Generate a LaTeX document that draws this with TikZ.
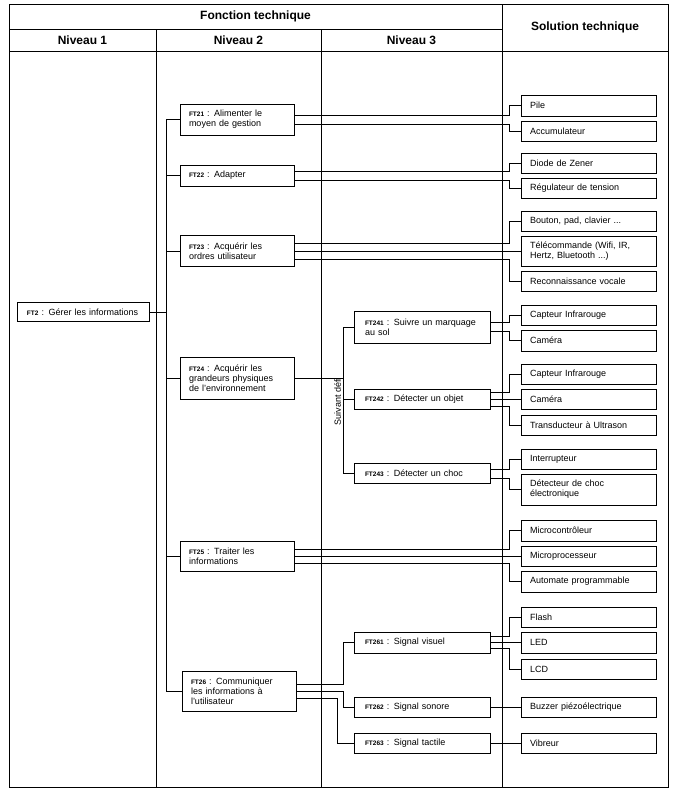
\documentclass[tikz,border=0pt]{standalone}
\usepackage{fontspec}
\setmainfont{Liberation Sans}

\tikzset{
  link/.style={line width=0.8pt},
  ftbox/.style={draw, line width=0.8pt, align=left, inner xsep=9pt, inner ysep=0pt,
    font=\fontsize{9}{10}\selectfont},
  lvltwo/.style={ftbox, text width=96pt},
  lvlthree/.style={ftbox, text width=114pt, inner xsep=11pt},
  solbox/.style={ftbox, text width=117pt},
  head/.style={font=\bfseries\fontsize{12}{14}\selectfont},
}
\newcommand{\ftref}[1]{{\bfseries\fontsize{6.5}{7}\selectfont #1}}

\begin{document}
\begin{tikzpicture}[x=1pt, y=-1pt]
    \useasboundingbox (0,0) rectangle (677,795);
    % Table frame
    \draw[link] (9,4) rectangle (668,787);
    \draw[link] (9,29) -- (502,29);
    \draw[link] (9,51) -- (668,51);
    \draw[link] (156,29) -- (156,787);
    \draw[link] (321,29) -- (321,787);
    \draw[link] (502,4) -- (502,787);
    % Headers
    \node[head] (fonction) at (255.5,16.5) {Fonction technique};
    \node[head] (solution) at (585,27.5) {Solution technique};
    \node[head] (niv1) at (82.5,40.5) {Niveau 1};
    \node[head] (niv2) at (238.5,40.5) {Niveau 2};
    \node[head] (niv3) at (411.5,40.5) {Niveau 3};
    % Bus lines
    \coordinate (busT) at (166,0);
    \coordinate (busD) at (343,0);
    \coordinate (busDb) at (337,0);
    \coordinate (busS) at (509,0);
    % Niveau 1
    \node[ftbox, text width=112pt, inner xsep=10pt, minimum height=19pt] (ft2) at (83,312)
        {\ftref{FT2} : Gérer les informations};
    % Niveau 2
    \node[lvltwo, minimum height=31pt] (ft21) at (237,119.5) {\ftref{FT21} : Alimenter le\\moyen de gestion};
    \node[lvltwo, minimum height=21pt] (ft22) at (237,175.5) {\ftref{FT22} : Adapter};
    \node[lvltwo, minimum height=31pt] (ft23) at (237,251) {\ftref{FT23} : Acquérir les\\ordres utilisateur};
    \node[lvltwo, minimum height=42pt] (ft24) at (237,378) {\ftref{FT24} : Acquérir les\\grandeurs physiques\\de l'environnement};
    \node[lvltwo, minimum height=30pt] (ft25) at (237,556) {\ftref{FT25} : Traiter les\\informations};
    \node[lvltwo, minimum height=40pt] (ft26) at (239,691) {\ftref{FT26} : Communiquer\\les informations à\\l'utilisateur};
    % Niveau 3
    \node[lvlthree, minimum height=32pt] (ft241) at (422,327) {\ftref{FT241} : Suivre un marquage\\au sol};
    \node[lvlthree, minimum height=20pt] (ft242) at (422,399.5) {\ftref{FT242} : Détecter un objet};
    \node[lvlthree, minimum height=20pt] (ft243) at (422,473.5) {\ftref{FT243} : Détecter un choc};
    \node[lvlthree, minimum height=21pt] (ft261) at (422,642.5) {\ftref{FT261} : Signal visuel};
    \node[lvlthree, minimum height=20pt] (ft262) at (422,707) {\ftref{FT262} : Signal sonore};
    \node[lvlthree, minimum height=20pt] (ft263) at (422,743) {\ftref{FT263} : Signal tactile};
    \node[rotate=90, font=\fontsize{9}{10}\selectfont] (defi) at (337.5,401.5) {Suivant défi};
    % Solutions techniques
    \node[solbox, minimum height=21pt] (pile) at (588.5,105.5) {Pile};
    \node[solbox, minimum height=20pt] (accu) at (588.5,131) {Accumulateur};
    \node[solbox, minimum height=20pt] (zener) at (588.5,163) {Diode de Zener};
    \node[solbox, minimum height=20pt] (regul) at (588.5,188) {Régulateur de tension};
    \node[solbox, minimum height=20pt] (bouton) at (588.5,221) {Bouton, pad, clavier ...};
    \node[solbox, minimum height=30pt] (telecom) at (588.5,251) {Télécommande (Wifi, IR,\\Hertz, Bluetooth ...)};
    \node[solbox, minimum height=20pt] (vocale) at (588.5,281) {Reconnaissance vocale};
    \node[solbox, minimum height=20pt] (irA) at (588.5,315) {Capteur Infrarouge};
    \node[solbox, minimum height=21pt] (cameraA) at (588.5,340.5) {Caméra};
    \node[solbox, minimum height=20pt] (irB) at (588.5,374) {Capteur Infrarouge};
    \node[solbox, minimum height=20pt] (cameraB) at (588.5,399.5) {Caméra};
    \node[solbox, minimum height=20pt] (ultrason) at (588.5,425.5) {Transducteur à Ultrason};
    \node[solbox, minimum height=20pt] (interrupteur) at (588.5,459) {Interrupteur};
    \node[solbox, minimum height=31pt] (choc) at (588.5,489.5) {Détecteur de choc\\électronique};
    \node[solbox, minimum height=21pt] (microC) at (588.5,530.5) {Microcontrôleur};
    \node[solbox, minimum height=20pt] (microP) at (588.5,556) {Microprocesseur};
    \node[solbox, minimum height=21pt] (automate) at (588.5,581.5) {Automate programmable};
    \node[solbox, minimum height=20pt] (flash) at (588.5,617) {Flash};
    \node[solbox, minimum height=21pt] (led) at (588.5,642.5) {LED};
    \node[solbox, minimum height=20pt] (lcd) at (588.5,669) {LCD};
    \node[solbox, minimum height=20pt] (buzzer) at (588.5,707) {Buzzer piézoélectrique};
    \node[solbox, minimum height=20pt] (vibreur) at (588.5,743) {Vibreur};
    % Niveau 1 -> Niveau 2
    \draw[link] (ft2.east) -- (ft2.east -| busT);
    \draw[link] (ft21.west -| busT) -- (ft26.west -| busT);
    \draw[link] (ft21.west -| busT) -- (ft21.west);
    \draw[link] (ft22.west -| busT) -- (ft22.west);
    \draw[link] (ft23.west -| busT) -- (ft23.west);
    \draw[link] (ft24.west -| busT) -- (ft24.west);
    \draw[link] (ft25.west -| busT) -- (ft25.west);
    \draw[link] (ft26.west -| busT) -- (ft26.west);
    % FT24 -> Niveau 3
    \draw[link] (ft24.east) -- (ft24.east -| busD);
    \draw[link] (ft241.west -| busD) -- (ft243.west -| busD);
    \draw[link] (ft241.west -| busD) -- (ft241.west);
    \draw[link] (ft242.west -| busD) -- (ft242.west);
    \draw[link] (ft243.west -| busD) -- (ft243.west);
    % FT26 -> Niveau 3
    \draw[link] ([yshift=7pt]ft26.east) -| (ft261.west -| busD) -- (ft261.west);
    \draw[link] (ft26.east) -| (ft262.west -| busD) -- (ft262.west);
    \draw[link] ([yshift=-7pt]ft26.east) -| (ft263.west -| busDb) -- (ft263.west);
    % Fonctions -> solutions
    \draw[link] ([yshift=4.5pt]ft21.east) -| (pile.west -| busS) -- (pile.west);
    \draw[link] ([yshift=-4.5pt]ft21.east) -| (accu.west -| busS) -- (accu.west);
    \draw[link] ([yshift=4.5pt]ft22.east) -| (zener.west -| busS) -- (zener.west);
    \draw[link] ([yshift=-4.5pt]ft22.east) -| (regul.west -| busS) -- (regul.west);
    \draw[link] ([yshift=8pt]ft23.east) -| (bouton.west -| busS) -- (bouton.west);
    \draw[link] (ft23.east) -- (telecom.west);
    \draw[link] ([yshift=-8pt]ft23.east) -| (vocale.west -| busS) -- (vocale.west);
    \draw[link] ([yshift=4.5pt]ft241.east) -| (irA.west -| busS) -- (irA.west);
    \draw[link] ([yshift=-4.5pt]ft241.east) -| (cameraA.west -| busS) -- (cameraA.west);
    \draw[link] ([yshift=7pt]ft242.east) -| (irB.west -| busS) -- (irB.west);
    \draw[link] (ft242.east) -- (cameraB.west);
    \draw[link] ([yshift=-7pt]ft242.east) -| (ultrason.west -| busS) -- (ultrason.west);
    \draw[link] ([yshift=4.5pt]ft243.east) -| (interrupteur.west -| busS) -- (interrupteur.west);
    \draw[link] ([yshift=-4.5pt]ft243.east) -| (choc.west -| busS) -- (choc.west);
    \draw[link] ([yshift=7pt]ft25.east) -| (microC.west -| busS) -- (microC.west);
    \draw[link] (ft25.east) -- (microP.west);
    \draw[link] ([yshift=-7pt]ft25.east) -| (automate.west -| busS) -- (automate.west);
    \draw[link] ([yshift=6pt]ft261.east) -| (flash.west -| busS) -- (flash.west);
    \draw[link] (ft261.east) -- (led.west);
    \draw[link] ([yshift=-6pt]ft261.east) -| (lcd.west -| busS) -- (lcd.west);
    \draw[link] (ft262.east) -- (buzzer.west);
    \draw[link] (ft263.east) -- (vibreur.west);
\end{tikzpicture}
\end{document}
